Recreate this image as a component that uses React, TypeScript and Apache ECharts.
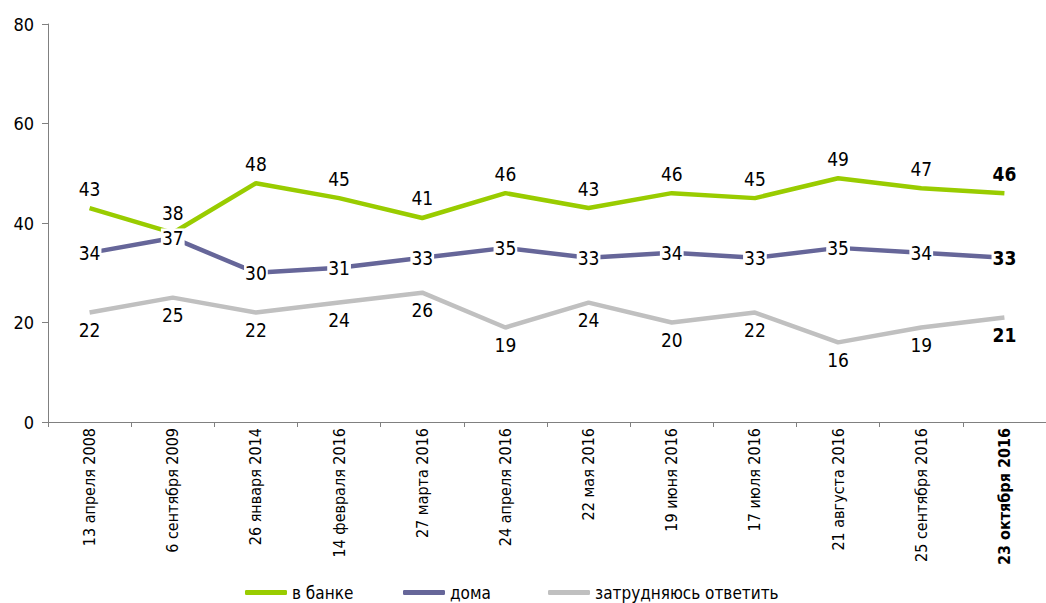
import React, { useEffect, useRef } from "react";
import * as echarts from "echarts";

const categories = [
  "13 апреля 2008",
  "6 сентября 2009",
  "26 января 2014",
  "14 февраля 2016",
  "27 марта 2016",
  "24 апреля 2016",
  "22 мая 2016",
  "19 июня 2016",
  "17 июля 2016",
  "21 августа 2016",
  "25 сентября 2016",
  "23 октября 2016",
];
const bankValues = [43, 38, 48, 45, 41, 46, 43, 46, 45, 49, 47, 46];
const homeValues = [34, 37, 30, 31, 33, 35, 33, 34, 33, 35, 34, 33];
const unsureValues = [22, 25, 22, 24, 26, 19, 24, 20, 22, 16, 19, 21];
const seriesNames = ["в банке", "дома", "затрудняюсь ответить"];

const FONT = "'Liberation Sans Narrow', 'DejaVu Sans Condensed', 'Roboto', sans-serif";

function withBoldLast(values: number[]) {
  return values.map((v, i) =>
    i === values.length - 1 ? { value: v, label: { fontWeight: "bold" } } : v
  );
}

export default function App() {
  const ref = useRef<HTMLDivElement>(null);
  useEffect(() => {
    document.body.style.margin = "0";
    const chart = echarts.init(ref.current!, null, { renderer: "svg" });
    const legendBase = {
      orient: "horizontal",
      top: 584,
      padding: 0,
      icon: "roundRect",
      itemWidth: 42,
      itemHeight: 5,
      itemGap: 0,
      textStyle: { fontFamily: FONT, fontSize: 17, color: "#000" },
    };
    const common = {
      type: "line",
      symbol: "circle",
      showSymbol: true,
      symbolSize: 0.1,
    };
    chart.setOption({
      animation: false,
      textStyle: { fontFamily: FONT },
      grid: { left: 48, top: 24, width: 1012, height: 398 },
      legend: [
        { ...legendBase, left: 245, data: [seriesNames[0]] },
        { ...legendBase, left: 403, data: [seriesNames[1]] },
        { ...legendBase, left: 548, data: [seriesNames[2]] },
      ],
      xAxis: {
        type: "category",
        data: categories,
        boundaryGap: true,
        axisLine: { lineStyle: { color: "#808080", width: 1 } },
        axisTick: { show: true, interval: 0, length: 5, lineStyle: { color: "#808080" } },
        axisLabel: {
          interval: 0,
          rotate: 90,
          margin: 6,
          fontFamily: FONT,
          fontSize: 16,
          color: "#000",
          formatter: (v: string, i: number) =>
            i === categories.length - 1 ? "{b|" + v + "}" : v,
          rich: { b: { fontWeight: "bold", fontFamily: FONT, fontSize: 16, color: "#000" } },
        },
        splitLine: { show: false },
      },
      yAxis: {
        type: "value",
        min: 0,
        max: 80,
        interval: 20,
        axisLine: { show: true, lineStyle: { color: "#808080", width: 1 } },
        axisTick: { show: true, length: 6, lineStyle: { color: "#808080" } },
        axisLabel: { margin: 14, fontFamily: FONT, fontSize: 18, color: "#000" },
        splitLine: { show: false },
      },
      series: [
        {
          ...common,
          name: seriesNames[0],
          data: withBoldLast(bankValues),
          lineStyle: { color: "#99CC00", width: 4.5 },
          itemStyle: { color: "#99CC00" },
          label: {
            show: true,
            position: "top",
            distance: 10,
            fontFamily: FONT,
            fontSize: 19,
            color: "#000",
          },
          z: 3,
        },
        {
          ...common,
          name: seriesNames[1],
          data: withBoldLast(homeValues),
          lineStyle: { color: "#666699", width: 4.5 },
          itemStyle: { color: "#666699" },
          label: {
            show: true,
            position: "inside",
            fontFamily: FONT,
            fontSize: 19,
            color: "#000",
            backgroundColor: "#fff",
            padding: [0, 1],
          },
          z: 4,
        },
        {
          ...common,
          name: seriesNames[2],
          data: withBoldLast(unsureValues),
          lineStyle: { color: "#C0C0C0", width: 4.5 },
          itemStyle: { color: "#C0C0C0" },
          label: {
            show: true,
            position: "bottom",
            distance: 8,
            fontFamily: FONT,
            fontSize: 19,
            color: "#000",
          },
          z: 2,
        },
      ],
    });
    return () => chart.dispose();
  }, []);
  return (
    <div
      ref={ref}
      style={{ position: "absolute", left: 0, top: 0, width: 1046, height: 603, background: "#fff" }}
    />
  );
}
